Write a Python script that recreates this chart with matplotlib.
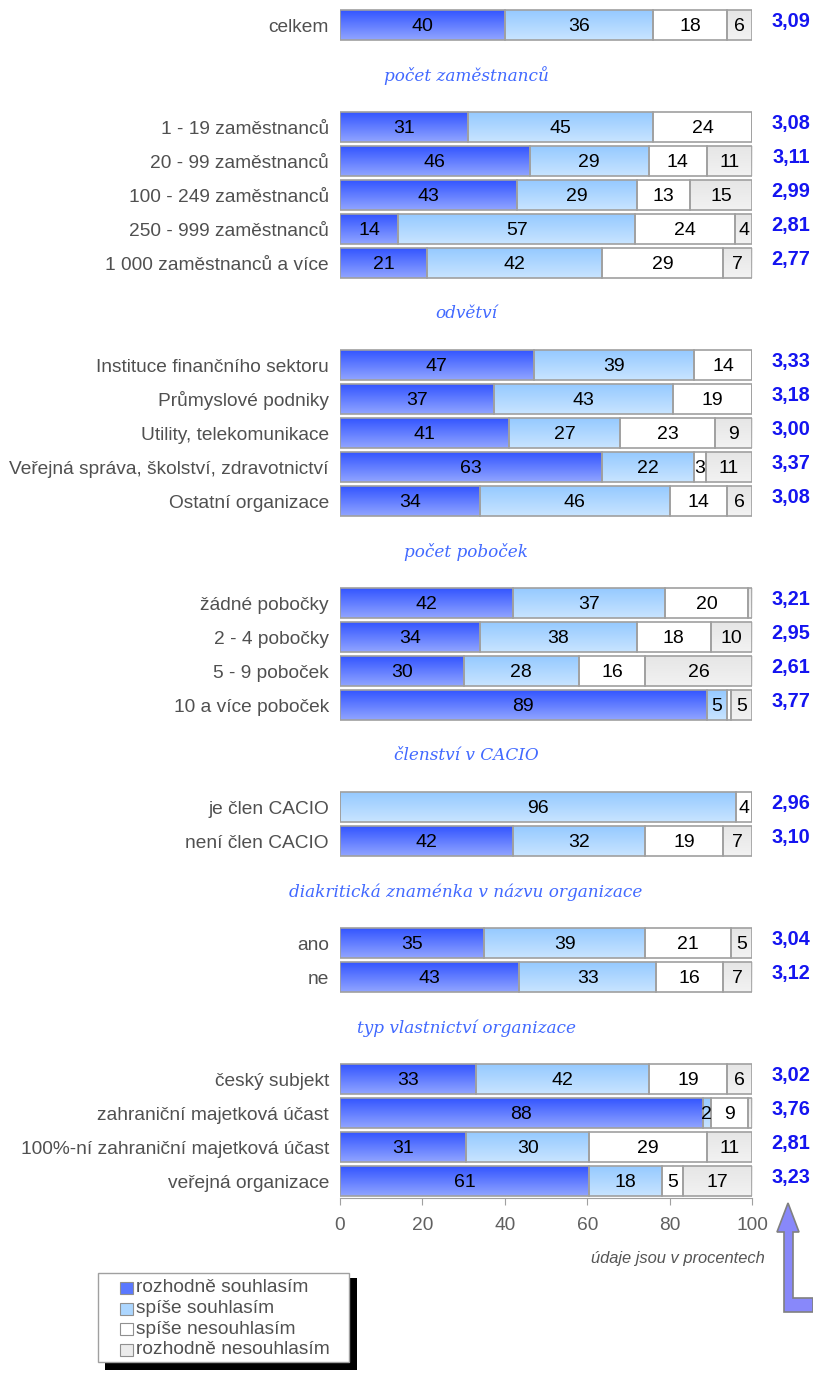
import numpy as np
import matplotlib.pyplot as plt
import matplotlib.transforms as mtransforms
from matplotlib.colors import LinearSegmentedColormap
from matplotlib.patches import Rectangle, Polygon

# Group headers (first group "celkem" has no header)
headers = ["", "počet zaměstnanců", "odvětví", "počet poboček", "členství v CACIO",
           "diakritická znaménka v názvu organizace", "typ vlastnictví organizace"]
group_sizes = [1, 5, 5, 4, 2, 2, 4]

labels = ["celkem",
          "1 - 19 zaměstnanců", "20 - 99 zaměstnanců", "100 - 249 zaměstnanců",
          "250 - 999 zaměstnanců", "1 000 zaměstnanců a více",
          "Instituce finančního sektoru", "Průmyslové podniky", "Utility, telekomunikace",
          "Veřejná správa, školství, zdravotnictví", "Ostatní organizace",
          "žádné pobočky", "2 - 4 pobočky", "5 - 9 poboček", "10 a více poboček",
          "je člen CACIO", "není člen CACIO",
          "ano", "ne",
          "český subjekt", "zahraniční majetková účast",
          "100%-ní zahraniční majetková účast", "veřejná organizace"]

rozhodne_souhlasim   = [40, 31, 46, 43, 14, 21, 47, 37, 41, 63, 34, 42, 34, 30, 89, 0, 42, 35, 43, 33, 88, 31, 61]
spise_souhlasim      = [36, 45, 29, 29, 57, 42, 39, 43, 27, 22, 46, 37, 38, 28, 5, 96, 32, 39, 33, 42, 2, 30, 18]
spise_nesouhlasim    = [18, 24, 14, 13, 24, 29, 14, 19, 23, 3, 14, 20, 18, 16, 1, 4, 19, 21, 16, 19, 9, 29, 5]
rozhodne_nesouhlasim = [6, 0, 11, 15, 4, 7, 0, 0, 9, 11, 6, 1, 10, 26, 5, 0, 7, 5, 7, 6, 1, 11, 17]
means = ["3,09", "3,08", "3,11", "2,99", "2,81", "2,77", "3,33", "3,18", "3,00", "3,37", "3,08",
         "3,21", "2,95", "2,61", "3,77", "2,96", "3,10", "3,04", "3,12", "3,02", "3,76", "2,81", "3,23"]

legend_labels = ["rozhodně souhlasím", "spíše souhlasím", "spíše nesouhlasím", "rozhodně nesouhlasím"]

# gradient colours (top, bottom) per series
grads = [("#3456ff", "#90a4ff"), ("#96caff", "#c8e4ff"), ("#ffffff", "#ffffff"), ("#e6e6e6", "#f2f2f2")]
legend_colors = ["#5a78ff", "#acd6ff", "#ffffff", "#ececec"]

plt.rcParams['font.family'] = ['Liberation Sans', 'DejaVu Sans']

W, H = 813, 1387
fig = plt.figure(figsize=(W / 100, H / 100), dpi=100)

def px(x, y):
    return x / W, 1 - y / H

ax = fig.add_axes([340 / W, 1 - 1198 / H, 412 / W, 1190 / H])

# row positions: groups separated by two empty slots
ypos = []
header_y = []
slot = 0
for gi, n in enumerate(group_sizes):
    if gi > 0:
        header_y.append(slot + 0.5)
        slot += 2
    ypos.extend(range(slot, slot + n))
    slot += n
ypos = np.array(ypos, dtype=float)

data = np.array([rozhodne_souhlasim, spise_souhlasim, spise_nesouhlasim, rozhodne_nesouhlasim], dtype=float)
totals = data.sum(axis=0)
shares = data / totals * 100

bh = 0.86
left = np.zeros(len(labels))
for si in range(4):
    cmap = LinearSegmentedColormap.from_list("g%d" % si, list(grads[si]))
    bars = ax.barh(ypos, shares[si], left=left, height=bh, facecolor="none",
                   edgecolor="#a0a0a0", linewidth=1.2, zorder=3)
    for i, b in enumerate(bars):
        w = shares[si][i]
        if w <= 0:
            continue
        im = ax.imshow(np.linspace(0, 1, 40).reshape(-1, 1), cmap=cmap, aspect="auto",
                       extent=(left[i], left[i] + w, ypos[i] + bh / 2, ypos[i] - bh / 2),
                       interpolation="bilinear", zorder=2)
        im.set_clip_path(b)
        if data[si][i] >= 2:
            ax.text(left[i] + w / 2, ypos[i] + 0.03, "%d" % data[si][i], ha="center", va="center",
                    fontsize=14, color="black", zorder=4)
    left += shares[si]

ax.set_xlim(0, 100)
ax.set_ylim(34.5, -0.5)
ax.set_yticks(ypos)
ax.set_yticklabels(labels, fontsize=13.8, color="#505050")
ax.tick_params(axis="y", length=0, pad=8)
ax.set_xticks(np.arange(0, 101, 20))
ax.tick_params(axis="x", colors="#a0a0a0", labelcolor="#606060", labelsize=13.8, length=5, pad=9)
for s in ["top", "right", "left"]:
    ax.spines[s].set_visible(False)
ax.spines["bottom"].set_color("#a0a0a0")

# group headers, centred above the bars
trans = mtransforms.blended_transform_factory(fig.transFigure, ax.transData)
for hy, ht in zip(header_y, headers[1:]):
    ax.text(466 / W, hy, ht, transform=trans, ha="center", va="center", fontsize=12.2,
            family="DejaVu Serif", style="italic", color="#4169ff")

# mean values
for y, m in zip(ypos, means):
    ax.text(810 / W, y - 0.1, m, transform=trans, ha="right", va="center", fontsize=14.3,
            fontweight="bold", color="#1414f0", clip_on=False)

fig.text(*px(678, 1259), "údaje jsou v procentech", ha="center", va="center", fontsize=11.9,
         style="italic", color="#555555")

# legend box with black shadow
fig.patches.append(Rectangle(px(105, 1370), 252 / W, 92 / H, transform=fig.transFigure,
                             facecolor="black", edgecolor="none"))
fig.patches.append(Rectangle(px(98, 1362), 251 / W, 89 / H, transform=fig.transFigure,
                             facecolor="white", edgecolor="#a0a0a0", linewidth=1))
for k, (lab, col) in enumerate(zip(legend_labels, legend_colors)):
    yc = 1288 + k * 20.5
    fig.patches.append(Rectangle(px(120, yc + 6), 13 / W, 12 / H, transform=fig.transFigure,
                                 facecolor=col, edgecolor="#909090", linewidth=0.8))
    fig.text(*px(136, yc), lab, ha="left", va="center", fontsize=13.8, color="#505050")

# decorative L-shaped arrow
arrow_pts = [(788, 1203), (799, 1232), (793, 1232), (793, 1298), (813, 1298), (813, 1312),
             (784, 1312), (784, 1232), (777, 1232)]
fig.patches.append(Polygon([px(x, y) for x, y in arrow_pts], closed=True, transform=fig.transFigure,
                           facecolor="#8888fa", edgecolor="#808080", linewidth=1.2))

fig.savefig("out.png", dpi=100)
